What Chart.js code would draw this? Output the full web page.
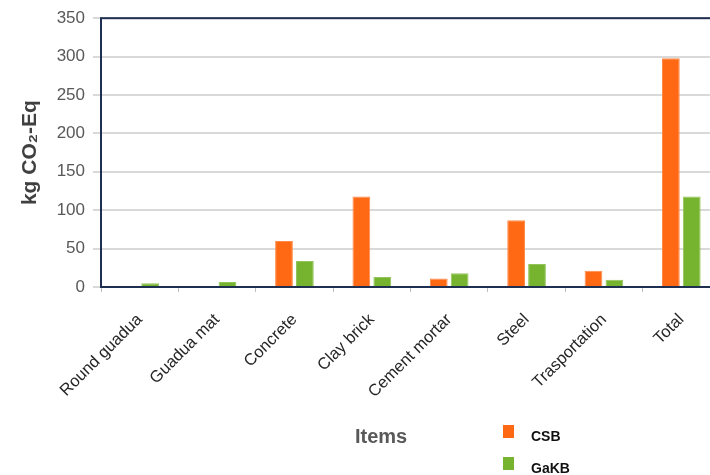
<!DOCTYPE html>
<html><head><meta charset="utf-8">
<script src="https://cdn.jsdelivr.net/npm/chart.js@4/dist/chart.umd.min.js"></script>
<style>
html,body{margin:0;padding:0;background:#fff;overflow:hidden;width:710px;height:475px}
#wrap{position:relative;width:720px;height:475px}
canvas{display:block}
.t{position:absolute;font-family:Arial,"Liberation Sans",sans-serif;font-weight:bold;white-space:nowrap}
.sw{position:absolute;width:11px;height:13px}
</style></head><body>
<div id="wrap">
<canvas id="c" width="720" height="475"></canvas>
<div class="t" style="left:355px;top:425px;font-size:20px;color:#595959">Items</div>
<div class="sw" style="left:503px;top:425px;background:#ff6914"></div>
<div class="t" style="left:531px;top:428px;font-size:14px;color:#111">CSB</div>
<div class="sw" style="left:503px;top:457px;background:#76b32e"></div>
<div class="t" style="left:531px;top:460px;font-size:14px;color:#111">GaKB</div>
</div>
<script>
const categories = ["Round guadua","Guadua mat","Concrete","Clay brick","Cement mortar","Steel","Trasportation","Total"];
const csbValues  = [0, 0, 60, 118, 11, 87, 21, 298];
const gakbValues = [5, 6.5, 34, 13, 18, 30, 9.5, 118];
const yTicks = [0, 50, 100, 150, 200, 250, 300, 350];

const frame = {
  id: 'frame',
  afterDatasetsDraw(chart) {
    const {ctx, chartArea: a} = chart;
    ctx.save();
    ctx.strokeStyle = '#1f2f52';
    ctx.lineWidth = 2;
    ctx.strokeRect(a.left, a.top, a.right - a.left, a.bottom - a.top);
    ctx.restore();
  }
};

new Chart(document.getElementById('c'), {
  type: 'bar',
  data: {
    labels: categories,
    datasets: [
      {label: 'CSB', data: csbValues, backgroundColor: '#ff6914', borderColor: '#ff8a4a', borderWidth: 1, barPercentage: 0.85, categoryPercentage: 0.54},
      {label: 'GaKB', data: gakbValues, backgroundColor: '#76b32e', borderColor: '#92c45a', borderWidth: 1, barPercentage: 0.85, categoryPercentage: 0.54}
    ]
  },
  options: {
    responsive: false,
    animation: false,
    layout: {padding: {top: 17, left: 0, right: 0, bottom: 0}},
    plugins: {legend: {display: false}, tooltip: {enabled: false}},
    scales: {
      x: {
        grid: {display: true, drawOnChartArea: false, color: '#bfbfbf', tickLength: 5, offset: true},
        border: {display: false},
        ticks: {minRotation: 45, maxRotation: 45, padding: 18, color: '#262626', font: {family: 'Arial', size: 16.5}},
        afterFit(s) { s.height = 188; }
      },
      y: {
        min: 0, max: 350,
        afterBuildTicks(s) { s.ticks = yTicks.map(v => ({value: v})); },
        grid: {color: '#d9d9d9', lineWidth: 2, tickLength: 8},
        border: {display: false},
        ticks: {padding: 8, color: '#595959', font: {family: 'Arial', size: 17}},
        title: {display: true, text: 'kg CO₂-Eq', color: '#404040', font: {family: 'Arial', size: 21, weight: 'bold'}, padding: {top: 18, bottom: 0}},
        afterFit(s) { s.width = 101; }
      }
    }
  },
  plugins: [frame]
});
</script>
</body></html>
